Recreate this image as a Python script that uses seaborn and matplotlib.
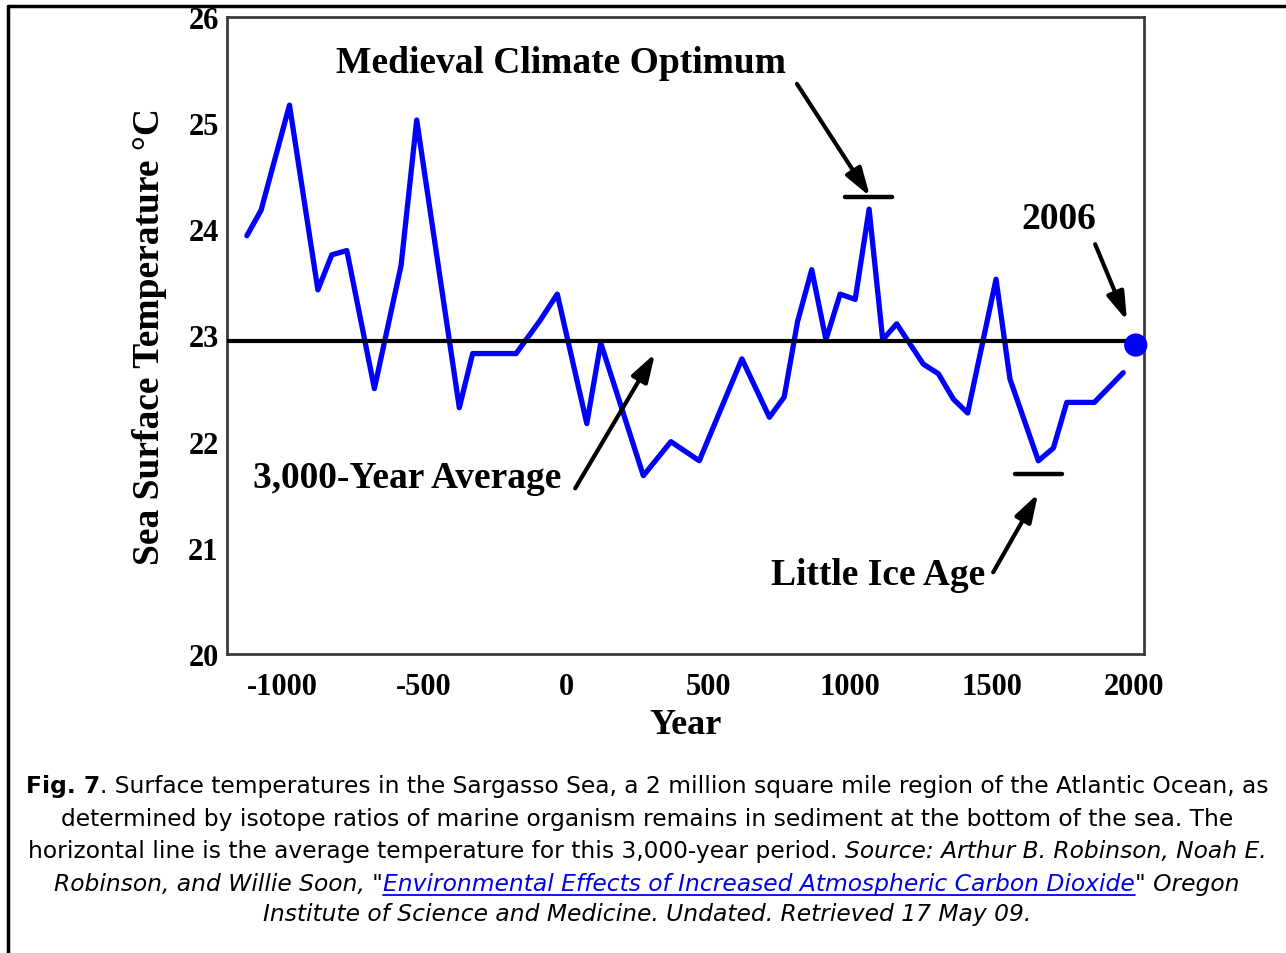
import matplotlib
matplotlib.use("Agg")
import matplotlib.pyplot as plt
from matplotlib.lines import Line2D
import numpy as np
import pandas as pd
import seaborn as sns

# ---------------- data ----------------
years = [-1124, -1074, -974, -874, -825, -772, -675, -581, -526, -376, -329, -176,
         -92, -31, 73, 122, 272, 369, 469, 619, 716, 768, 815, 865, 915, 965,
         1018, 1067, 1115, 1164, 1258, 1311, 1364, 1414, 1514, 1563, 1663, 1716,
         1763, 1860, 1962]
temps = [23.94, 24.18, 25.17, 23.43, 23.76, 23.80, 22.50, 23.66, 25.03, 22.32, 22.83, 22.83,
         23.14, 23.39, 22.17, 22.93, 21.68, 22.00, 21.82, 22.78, 22.23, 22.42, 23.13, 23.62,
         22.96, 23.39, 23.34, 24.19, 22.96, 23.11, 22.73, 22.64, 22.40, 22.27, 23.53, 22.59,
         21.82, 21.94, 22.37, 22.37, 22.65]
avg_temp = 22.95
year_2006 = [2006]
temp_2006 = [22.91]
x_ticks = [-1000, -500, 0, 500, 1000, 1500, 2000]
y_ticks = [20, 21, 22, 23, 24, 25, 26]
x_label = "Year"
y_label = "Sea Surface Temperature °C"

# ---------------- style ----------------
sns.set_style("white")
plt.rcParams["font.family"] = ["Liberation Serif", "DejaVu Serif"]
plt.rcParams["text.color"] = "black"

W, H = 1286, 954
fig = plt.figure(figsize=(W / 100, H / 100), dpi=100)
ax = fig.add_axes([227 / W, 1 - 655 / H, (1144 - 227) / W, (655 - 18) / H])

df = pd.DataFrame({"Year": years, "Temp": temps})
sns.lineplot(data=df, x="Year", y="Temp", ax=ax, color="#0000FF", lw=3.8, sort=False)
ax.axhline(avg_temp, color="black", lw=3, zorder=3)
sns.scatterplot(x=year_2006, y=temp_2006, ax=ax, color="#0000FF", s=280,
                edgecolor="none", zorder=5, clip_on=False)

ax.set_xlim(-1194, 2035)
ax.set_ylim(20, 26)
ax.set_xticks(x_ticks)
ax.set_yticks(y_ticks)
ax.set_xticklabels([str(v) for v in x_ticks])
ax.set_yticklabels([str(v) for v in y_ticks])
ax.set_xlabel("")
ax.set_ylabel("")
for s in ax.spines.values():
    s.set_color("#3a3a3a")
    s.set_linewidth(2)
ax.tick_params(axis="both", direction="in", length=7, width=1.5, color="#3a3a3a",
               labelsize=22, labelcolor="black")
ax.tick_params(axis="x", pad=13)
ax.tick_params(axis="y", pad=6)
for lbl in ax.get_xticklabels() + ax.get_yticklabels():
    lbl.set_fontweight("bold")

ax.text(0.5, -0.11, x_label, transform=ax.transAxes, ha="center", va="center",
        fontsize=26, fontweight="bold", color="black")
ax.text(-0.084, 0.5, y_label, transform=ax.transAxes, ha="center", va="center",
        rotation=90, fontsize=27, fontweight="bold", color="black")

# ---------------- annotations ----------------
arrow_kw = dict(arrowstyle="-|>,head_length=0.85,head_width=0.27", color="black",
                lw=3, mutation_scale=20, shrinkA=0, shrinkB=0)
ann_font = dict(fontsize=27, fontweight="bold", ha="center", va="center", color="black")

ax.text(-18, 25.576, "Medieval Climate Optimum", **ann_font)
ax.annotate("", xy=(1070, 24.31), xytext=(813, 25.37), arrowprops=arrow_kw)
ax.plot([982, 1148], [24.30, 24.30], color="black", lw=3.2, solid_capstyle="round")

ax.text(1736, 24.10, "2006", **ann_font)
ax.annotate("", xy=(1975, 23.14), xytext=(1863, 23.86), arrowprops=arrow_kw)

ax.text(-560, 21.66, "3,000-Year Average", **ann_font)
ax.annotate("", xy=(313, 22.83), xytext=(32, 21.56), arrowprops=arrow_kw)

ax.text(1099, 20.75, "Little Ice Age", **ann_font)
ax.annotate("", xy=(1662, 21.51), xytext=(1504, 20.77), arrowprops=arrow_kw)
ax.plot([1581, 1746], [21.70, 21.70], color="black", lw=3.2, solid_capstyle="round")

# ---------------- outer frame ----------------
fig.add_artist(Line2D([8 / W, 1.0], [1 - 7 / H, 1 - 7 / H], color="black", lw=2.5,
                      transform=fig.transFigure))
fig.add_artist(Line2D([8 / W, 8 / W], [0, 1 - 7 / H], color="black", lw=2.5,
                      transform=fig.transFigure))

# ---------------- caption ----------------
cap_family = ["DejaVu Sans"]
renderer = fig.canvas.get_renderer()

def measure(s, size, weight="normal", style="normal"):
    t = fig.text(0, 0, s, fontsize=size, fontweight=weight, fontstyle=style,
                 family=cap_family)
    w = t.get_window_extent(renderer).width
    t.remove()
    return w

line1_b = "Fig. 7"
line1_n = ". Surface temperatures in the Sargasso Sea, a 2 million square mile region of the Atlantic Ocean, as"
test = 14.0
wtest = measure(line1_b, test, "bold") + measure(line1_n, test)
cap_size = test * 1245.0 / wtest

def space_w(style):
    return measure("x x", cap_size, style=style) - measure("xx", cap_size, style=style)

# each line: list of (text, weight, style, color, underline, space_before)
caption = [
    (787, [("Fig. 7", "bold", "normal", "black", False, False),
           (line1_n, "normal", "normal", "black", False, False)]),
    (820, [("determined by isotope ratios of marine organism remains in sediment at the bottom of the sea. The",
            "normal", "normal", "black", False, False)]),
    (852, [("horizontal line is the average temperature for this 3,000-year period.", "normal", "normal", "black", False, False),
           ("Source: Arthur B. Robinson, Noah E.", "normal", "italic", "black", False, True)]),
    (884, [("Robinson, and Willie Soon, \"", "normal", "italic", "black", False, False),
           ("Environmental Effects of Increased Atmospheric Carbon Dioxide", "normal", "italic", "#0000EE", True, False),
           ("\" Oregon", "normal", "italic", "black", False, False)]),
    (915, [("Institute of Science and Medicine. Undated. Retrieved 17 May 09.", "normal", "italic", "black", False, False)]),
]

xc = 647
for ycen, segs in caption:
    widths = []
    for (s, wgt, sty, col, ul, sp) in segs:
        w = measure(s, cap_size, wgt, sty)
        if sp:
            w += space_w(sty)
        widths.append(w)
    x = xc - sum(widths) / 2
    for (s, wgt, sty, col, ul, sp), w in zip(segs, widths):
        x0 = x + (space_w(sty) if sp else 0)
        fig.text(x0 / W, 1 - ycen / H, s, fontsize=cap_size, fontweight=wgt,
                 fontstyle=sty, color=col, family=cap_family, ha="left", va="center")
        if ul:
            fig.add_artist(Line2D([x0 / W, (x + w) / W], [1 - (ycen + 12) / H] * 2,
                                  color=col, lw=1.3, transform=fig.transFigure))
        x += w

fig.savefig("out.png", dpi=100)
